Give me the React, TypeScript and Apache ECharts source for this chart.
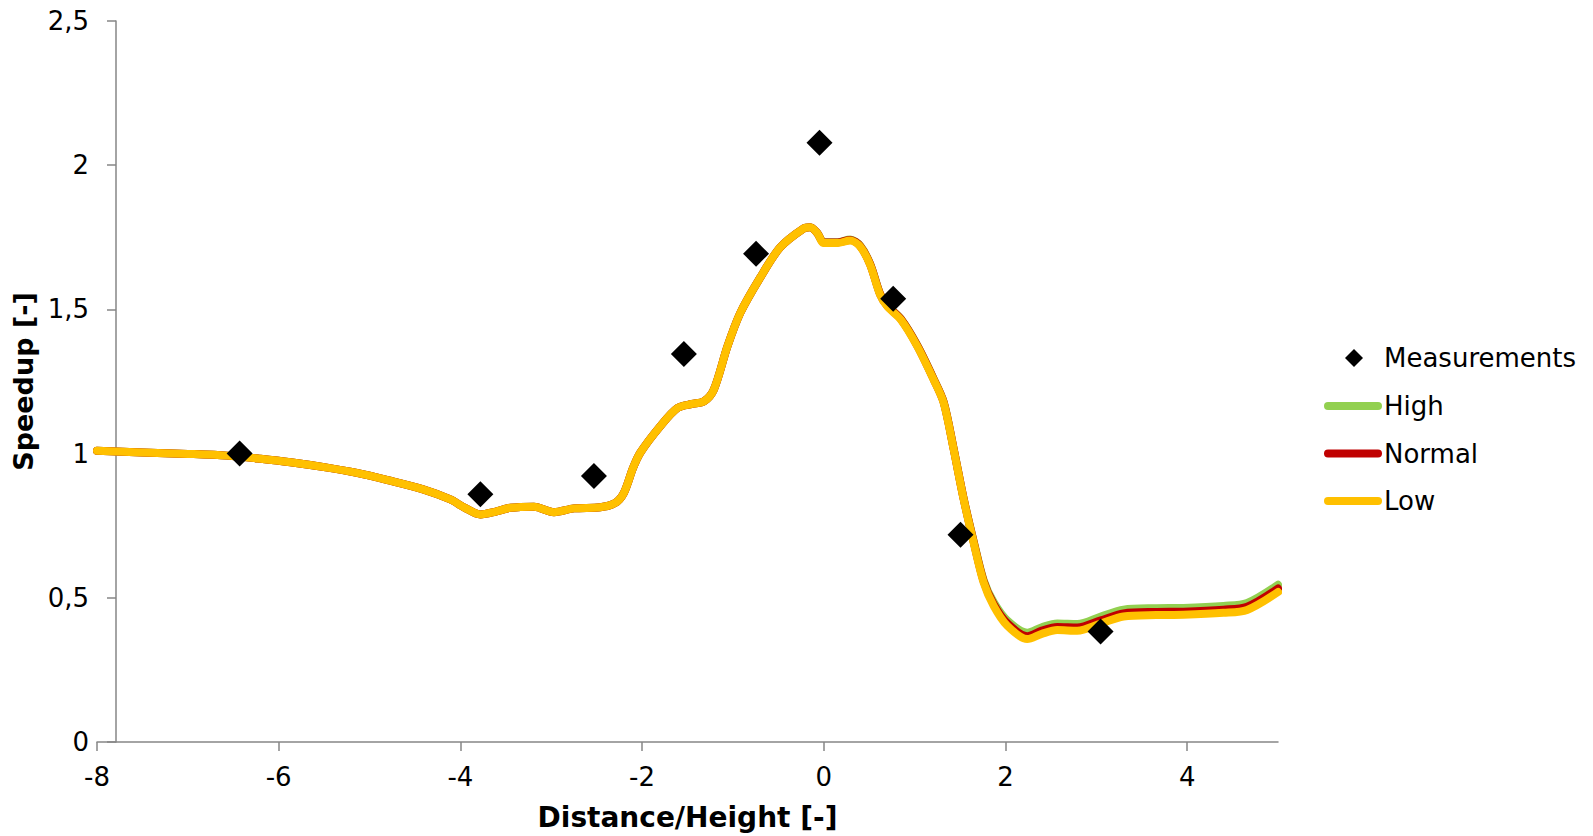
import React, { useEffect, useRef } from "react";
import * as echarts from "echarts";

// Distance/Height values of the simulated profiles
const distance = [
  -8, -7.5, -7, -6.57, -6.2, -5.87, -5.5, -5.14, -4.8, -4.41, -4.11, -3.95, -3.78, -3.62, -3.45, -3.19,
  -2.97, -2.75, -2.46, -2.3, -2.2, -2.1, -2.02, -1.8, -1.61, -1.45, -1.32, -1.21, -1.06, -0.92, -0.7,
  -0.48, -0.22, -0.15, -0.07, 0, 0.15, 0.29, 0.4, 0.51, 0.62, 0.7, 0.85, 1.03, 1.21, 1.32, 1.43, 1.54,
  1.65, 1.76, 1.87, 2.02, 2.24, 2.4, 2.57, 2.79, 3.05, 3.3, 3.66, 3.96, 4.4, 4.66, 5,
];

const low = [
  1.01, 1.004, 0.999, 0.993, 0.982, 0.97, 0.953, 0.933, 0.908, 0.876, 0.841, 0.812, 0.789, 0.798, 0.812, 0.816,
  0.797, 0.81, 0.814, 0.828, 0.864, 0.95, 1.003, 1.095, 1.158, 1.172, 1.181, 1.222, 1.372, 1.487, 1.61,
  1.715, 1.781, 1.785, 1.764, 1.73, 1.73, 1.739, 1.718, 1.655, 1.551, 1.51, 1.464, 1.372, 1.256, 1.176, 1.014, 0.841,
  0.691, 0.553, 0.472, 0.403, 0.357, 0.375, 0.388, 0.386, 0.411, 0.435, 0.44, 0.441, 0.448, 0.458, 0.52,
];

const normal = [
  1.01, 1.004, 0.999, 0.993, 0.982, 0.97, 0.953, 0.933, 0.908, 0.876, 0.841, 0.812, 0.789, 0.798, 0.812, 0.816,
  0.797, 0.81, 0.814, 0.828, 0.864, 0.95, 1.003, 1.095, 1.158, 1.172, 1.181, 1.222, 1.372, 1.487, 1.61,
  1.715, 1.781, 1.785, 1.764, 1.732, 1.732, 1.741, 1.72, 1.657, 1.553, 1.512, 1.466, 1.374, 1.258, 1.178, 1.016, 0.843,
  0.694, 0.557, 0.478, 0.412, 0.367, 0.386, 0.399, 0.397, 0.422, 0.446, 0.451, 0.452, 0.459, 0.469, 0.532,
];

const high = [
  1.01, 1.004, 0.999, 0.993, 0.982, 0.97, 0.953, 0.933, 0.908, 0.876, 0.841, 0.812, 0.789, 0.798, 0.812, 0.816,
  0.797, 0.81, 0.814, 0.828, 0.864, 0.95, 1.003, 1.095, 1.158, 1.172, 1.181, 1.222, 1.372, 1.487, 1.61,
  1.715, 1.781, 1.785, 1.764, 1.733, 1.733, 1.742, 1.721, 1.658, 1.554, 1.513, 1.467, 1.375, 1.259, 1.179, 1.017, 0.844,
  0.696, 0.561, 0.485, 0.421, 0.379, 0.398, 0.411, 0.409, 0.435, 0.459, 0.464, 0.465, 0.472, 0.482, 0.545,
];

// Measurements
const measX = [-6.43, -3.78, -2.53, -1.54, -0.745, -0.047, 0.764, 1.505, 3.047];
const measY = [1.0, 0.859, 0.922, 1.345, 1.693, 2.078, 1.537, 0.719, 0.383];

// Tick labels
const xTicks = [-8, -6, -4, -2, 0, 2, 4];
const yTicks = [0, 0.5, 1, 1.5, 2, 2.5];

const FONT = "'DejaVu Sans', Verdana, sans-serif";
const AXIS_COLOR = "#868686";
const CAPSULE = "path://M4,0 L54,0 A4,4 0 0 1 54,8 L4,8 A4,4 0 0 1 4,0 Z";

export default function App() {
  const ref = useRef<HTMLDivElement>(null);

  useEffect(() => {
    document.body.style.margin = "0";
    const chart = echarts.init(ref.current!, null, { renderer: "svg" });
    const pairs = (ys: number[]) => distance.map((x, i) => [x, ys[i]]);
    const lineSeries = (name: string, ys: number[], color: string) => ({
      name,
      type: "line",
      data: pairs(ys),
      smooth: 0.3,
      symbol: "none",
      showSymbol: false,
      color,
      itemStyle: { color },
      lineStyle: { width: 8, color, cap: "round", join: "round" },
      emphasis: { disabled: true },
    });

    chart.setOption({
      animation: false,
      backgroundColor: "#ffffff",
      grid: { left: 97, right: 315, top: 21, bottom: 93 },
      legend: [
        {
          data: ["Measurements"],
          orient: "vertical",
          left: 1340,
          top: 340,
          itemWidth: 18,
          itemHeight: 18,
          icon: "diamond",
          selectedMode: false,
          itemStyle: { color: "#000", opacity: 1 },
          textStyle: { fontSize: 26, fontFamily: FONT, color: "#000", padding: [0, 0, 0, 16] },
        },
        {
          data: [
            { name: "High", icon: CAPSULE },
            { name: "Normal", icon: CAPSULE },
            { name: "Low", icon: CAPSULE },
          ],
          orient: "vertical",
          left: 1319,
          top: 388,
          itemWidth: 58,
          itemHeight: 8,
          itemGap: 21.5,
          selectedMode: false,
          textStyle: { fontSize: 26, lineHeight: 26, fontFamily: FONT, color: "#000", padding: [0, 0, 0, -3] },
        },
      ],
      xAxis: {
        type: "value",
        min: -8,
        max: 5,
        interval: 2,
        name: "Distance/Height [-]",
        nameLocation: "middle",
        nameGap: 61,
        nameTextStyle: { fontSize: 28, fontWeight: "bold", fontFamily: FONT, color: "#000" },
        axisLine: { show: true, onZero: false, lineStyle: { color: AXIS_COLOR, width: 1.5 } },
        axisTick: { show: true, length: 9, customValues: xTicks, lineStyle: { color: AXIS_COLOR, width: 1.5 } },
        axisLabel: {
          customValues: xTicks,
          margin: 22,
          fontSize: 26,
          fontFamily: FONT,
          color: "#000",
        },
        splitLine: { show: false },
      },
      yAxis: {
        type: "value",
        min: 0,
        max: 2.5,
        interval: 0.5,
        offset: -19,
        name: "Speedup [-]",
        nameLocation: "middle",
        nameGap: 74,
        nameRotate: 90,
        nameTextStyle: { fontSize: 27, fontWeight: "bold", fontFamily: FONT, color: "#000" },
        axisLine: { show: true, onZero: false, lineStyle: { color: AXIS_COLOR, width: 1.5 } },
        axisTick: { show: true, length: 9, customValues: yTicks, lineStyle: { color: AXIS_COLOR, width: 1.5 } },
        axisLabel: {
          customValues: yTicks,
          margin: 27,
          fontSize: 26,
          fontFamily: FONT,
          color: "#000",
          formatter: (v: number) => String(v).replace(".", ","),
        },
        splitLine: { show: false },
      },
      series: [
        lineSeries("High", high, "#92D050"),
        lineSeries("Normal", normal, "#C00000"),
        lineSeries("Low", low, "#FFC000"),
        {
          name: "Measurements",
          type: "scatter",
          data: measX.map((x, i) => [x, measY[i]]),
          symbol: "diamond",
          symbolSize: 26,
          color: "#000",
          itemStyle: { color: "#000", opacity: 1 },
          emphasis: { disabled: true },
          z: 5,
        },
      ],
    });

    return () => chart.dispose();
  }, []);

  return <div ref={ref} style={{ width: 1593, height: 836 }} />;
}
